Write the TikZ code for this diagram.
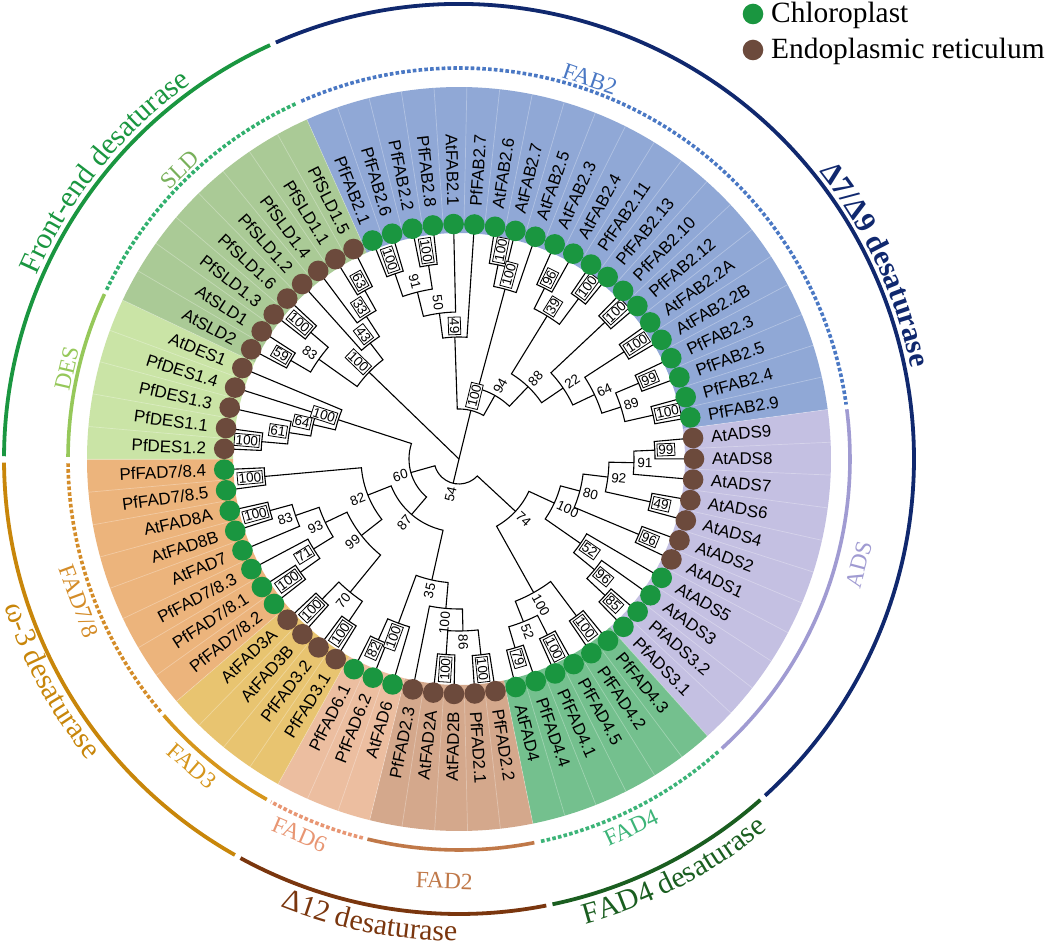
\documentclass[tikz,border=0pt]{standalone}
\usepackage{fontspec}
\setmainfont{Liberation Serif}
\setsansfont{Liberation Sans}
\usetikzlibrary{decorations.text}

%% dots
\definecolor{cp}{RGB}{26,150,64}
\definecolor{er}{RGB}{108,74,60}
%% sector backgrounds
\definecolor{fabBG}{RGB}{144,168,214}
\definecolor{adsBG}{RGB}{196,192,226}
\definecolor{fadfourBG}{RGB}{116,192,142}
\definecolor{fadtwoBG}{RGB}{212,168,140}
\definecolor{fadsixBG}{RGB}{236,190,160}
\definecolor{fadthreeBG}{RGB}{232,196,112}
\definecolor{fadsevenBG}{RGB}{236,180,124}
\definecolor{desBG}{RGB}{202,228,166}
\definecolor{sldBG}{RGB}{170,202,150}
%% subfamily rings
\definecolor{fabC}{RGB}{74,120,196}
\definecolor{adsC}{RGB}{160,155,210}
\definecolor{fadfourC}{RGB}{60,180,120}
\definecolor{fadtwoC}{RGB}{192,120,72}
\definecolor{fadsixC}{RGB}{232,150,115}
\definecolor{fadthreeC}{RGB}{214,150,28}
\definecolor{fadsevenC}{RGB}{212,140,40}
\definecolor{desC}{RGB}{150,200,90}
\definecolor{sldC}{RGB}{50,176,110}
\definecolor{sldT}{RGB}{120,176,90}
%% family rings
\definecolor{navyC}{RGB}{16,40,110}
\definecolor{fourDC}{RGB}{26,94,32}
\definecolor{twelveC}{RGB}{122,54,14}
\definecolor{omegaC}{RGB}{200,134,10}
\definecolor{frontC}{RGB}{26,150,64}

%% one bracket of the tree: child (x1,r1), child (x2,r2), node radius r
\newcommand{\clade}[5]{%
  \pgfmathsetmacro\aA{111.6-(#1)*5.0704}%
  \pgfmathsetmacro\aB{111.6-(#3)*5.0704}%
  \draw[treeLine] (\aA:#2) -- (\aA:#5)
    arc[start angle=\aA, end angle=\aB, radius=#5] -- (\aB:#4);}

%% bootstrap value at node (x,r)
\newcommand{\boot}[5]{%
  \pgfmathsetmacro\aA{111.6-(#1)*5.0704}%
  \pgfmathsetmacro\rA{#2+2}%
  \pgfmathtruncatemacro\rsd{cos(\aA)>0}%
  \ifnum\rsd=1
    \node[#4, rotate=\aA, anchor=west] (bs#5) at (\aA:\rA) {#3};
  \else
    \pgfmathsetmacro\aR{\aA+180}%
    \node[#4, rotate=\aR, anchor=east] (bs#5) at (\aA:\rA) {#3};
  \fi}

\begin{document}
\begin{tikzpicture}
[x=1bp,y=1bp,
  treeLine/.style={line width=1.1bp,black},
  leafLabel/.style={font=\sffamily\fontsize{17}{19}\selectfont,inner sep=0pt},
  bsBox/.style={draw,line width=0.8bp,fill=white,font=\sffamily\fontsize{13.5}{15}\selectfont,inner sep=1.3bp},
  bsFree/.style={font=\sffamily\fontsize{13.5}{15}\selectfont,inner sep=1.3bp},
  leafDot/.style={circle,inner sep=0pt,minimum size=20.6bp},
  ringSolid/.style={line width=3.6bp},
  ringDash/.style={line width=3.6bp,dash pattern=on 3.6bp off 2.2bp},
  outerRing/.style={line width=3.8bp},
  subLabel/.style={font=\fontsize{23.5}{25}\selectfont,inner sep=0pt}]
\fill[white] (-459,-487) rectangle (593,459);
\useasboundingbox (-459,-487) rectangle (593,459);

%% coloured sectors
\foreach \ia/\ib/\c in {0/20/fabBG, 21/31/adsBG, 32/37/fadfourBG, 38/42/fadtwoBG,
  43/45/fadsixBG, 46/49/fadthreeBG, 50/57/fadsevenBG, 58/62/desBG, 63/70/sldBG}
{
  \pgfmathsetmacro\aA{111.6-(\ia-0.5)*5.0704}
  \pgfmathsetmacro\aB{111.6-(\ib+0.5)*5.0704}
  \fill[\c] (\aA:226) arc[start angle=\aA, end angle=\aB, radius=226]
    -- (\aB:372) arc[start angle=\aB, end angle=\aA, radius=372] -- cycle;
}
%% faint lines between the leaves
\foreach \i in {0,...,70}
{
  \pgfmathsetmacro\aA{111.6-(\i-0.5)*5.0704}
  \draw[white,opacity=0.3,line width=0.7bp] (\aA:240) -- (\aA:372);
}

%% tree: brackets
\foreach \xa/\ra/\xb/\rb/\rn in {
  0/226/1/226/196, 2/226/3/226/196, 0.5/196/2.5/196/172, 1.5/172/4/226/147,
  2.75/147/5/226/122, 6/226/7/226/198, 6.5/198/8/226/176, 9/226/10/226/191,
  11/226/12/226/200, 9.5/191/11.5/200/168, 13/226/14/226/200, 15/226/16/226/197,
  17/226/18/226/195, 19/226/20/226/199, 17.5/195/19.5/199/170, 15.5/197/18.5/170/150,
  13.5/200/17/150/126, 10.5/168/15.25/126/100, 7.25/176/12.875/100/73,
  3.875/122/10.0625/73/50,
  21/226/22/226/196, 21.5/196/23/226/175, 24/226/25/226/196, 22.25/175/24.5/196/150,
  26/226/27/226/195, 23.375/150/26.5/195/125, 30/226/31/226/200, 29/226/30.5/200/175,
  28/226/29.75/175/148, 24.9375/125/28.875/148/105,
  32/226/33/226/196, 34/226/35/226/197, 36/226/37/226/197, 34.5/197/36.5/197/175,
  32.5/196/35.5/175/153, 26.90625/105/34/153/77,
  38/226/39/226/197, 40/226/41/226/196, 38.5/197/40.5/196/172, 39.5/172/42/226/150,
  44/226/45/226/198, 43/226/44.5/198/175, 40.75/150/43.75/175/124,
  46/226/47/226/196, 48/226/49/226/196, 46.5/196/48.5/196/172,
  50/226/51/226/195, 50.5/195/52/226/171, 54/226/55/226/196, 53/226/54.5/196/173,
  51.25/171/53.75/173/148, 56/226/57/226/195, 47.5/172/52.5/148/124,
  50/124/56.5/195/98, 42.25/124/53.25/98/73,
  58/226/59/226/198, 58.5/198/60/226/172, 59.25/172/61/226/150, 60.125/150/62/226/127,
  47.75/73/61.0625/127/50,
  63/226/64/226/195, 65/226/66/226/195, 63.5/195/65.5/195/172, 69/226/70/226/193,
  68/226/69.5/193/170, 67/226/68.75/170/146, 64.5/172/67.875/146/125,
  30.453/77/54.406/50/25}
{
  \clade{\xa}{\ra}{\xb}{\rb}{\rn}
}
%% tree: root stems
\coordinate (root) at (0,0);
\foreach \xa/\ra in {6.96875/50, 66.1875/125, 42.43/25}
{
  \pgfmathsetmacro\aA{111.6-\xa*5.0704}
  \draw[treeLine] (root) -- (\aA:\ra);
}

%% bootstrap values
\foreach \xa/\ra/\v/\s [count=\k] in {
  0.5/196/100/bsBox, 2.5/196/100/bsBox, 1.5/172/91/bsFree, 2.75/147/50/bsFree,
  3.875/122/49/bsBox, 6.5/198/100/bsBox, 7.25/176/100/bsBox, 9.5/191/96/bsBox,
  11.5/200/100/bsBox, 10.5/168/39/bsBox, 13.5/200/100/bsBox, 15.5/197/100/bsBox,
  17.5/195/99/bsBox, 19.5/199/100/bsBox, 18.5/170/89/bsFree, 17/150/64/bsFree,
  15.25/126/22/bsFree, 12.875/100/88/bsFree, 10.0625/73/94/bsFree, 6.96875/50/100/bsBox,
  21.5/196/99/bsBox, 22.25/175/91/bsFree, 24.5/196/49/bsBox, 23.375/150/92/bsFree,
  26.5/195/96/bsBox, 24.9375/125/80/bsFree, 30.5/200/85/bsBox, 29.75/175/96/bsBox,
  28.875/148/52/bsBox, 26.90625/105/100/bsFree,
  32.5/196/100/bsBox, 34.5/197/100/bsBox, 36.5/197/79/bsBox, 35.5/175/52/bsFree,
  34/153/100/bsFree, 30.453/77/74/bsFree,
  38.5/197/100/bsBox, 40.5/196/100/bsBox, 39.5/172/86/bsFree, 40.75/150/100/bsFree,
  44.5/198/82/bsBox, 43.75/175/100/bsBox, 42.25/124/35/bsFree,
  46.5/196/100/bsBox, 48.5/196/100/bsBox, 47.5/172/70/bsFree,
  50.5/195/100/bsBox, 51.25/171/71/bsBox, 54.5/196/100/bsBox, 53.75/173/83/bsFree,
  52.5/148/93/bsFree, 56.5/195/100/bsBox, 50/124/99/bsFree, 53.25/98/82/bsFree,
  47.75/73/87/bsFree,
  58.5/198/100/bsBox, 59.25/172/61/bsBox, 60.125/150/64/bsBox, 61.0625/127/100/bsBox,
  54.406/50/60/bsFree,
  63.5/195/59/bsBox, 65.5/195/100/bsBox, 64.5/172/83/bsFree, 69.5/193/63/bsBox,
  68.75/170/33/bsBox, 67.875/146/43/bsBox, 66.1875/125/100/bsBox, 42.43/25/54/bsFree}
{
  \boot{\xa}{\ra}{\v}{\s}{\k}
}

%% leaves: dots and names
\foreach \lab/\col [count=\i from 0] in {
  PfFAB2.1/cp, PfFAB2.6/cp, PfFAB2.2/cp, PfFAB2.8/cp, AtFAB2.1/cp, PfFAB2.7/cp,
  AtFAB2.6/cp, AtFAB2.7/cp, AtFAB2.5/cp, AtFAB2.3/cp, AtFAB2.4/cp, PfFAB2.11/cp,
  PfFAB2.13/cp, PfFAB2.10/cp, PfFAB2.12/cp, AtFAB2.2A/cp, AtFAB2.2B/cp, PfFAB2.3/cp,
  PfFAB2.5/cp, PfFAB2.4/cp, PfFAB2.9/cp,
  AtADS9/er, AtADS8/er, AtADS7/er, AtADS6/er, AtADS4/er, AtADS2/er, AtADS1/er,
  AtADS5/cp, AtADS3/cp, PfADS3.2/cp, PfADS3.1/cp,
  PfFAD4.3/cp, PfFAD4.2/cp, PfFAD4.5/cp, PfFAD4.1/cp, PfFAD4.4/cp, AtFAD4/cp,
  PfFAD2.2/er, PfFAD2.1/er, AtFAD2B/er, AtFAD2A/er, PfFAD2.3/er,
  AtFAD6/cp, PfFAD6.2/cp, PfFAD6.1/cp,
  PfFAD3.1/er, PfFAD3.2/er, AtFAD3B/er, AtFAD3A/er,
  {PfFAD7/8.2}/cp, {PfFAD7/8.1}/cp, {PfFAD7/8.3}/cp, AtFAD7/cp, AtFAD8B/cp, AtFAD8A/cp,
  {PfFAD7/8.5}/cp, {PfFAD7/8.4}/cp,
  PfDES1.2/er, PfDES1.1/er, PfDES1.3/er, PfDES1.4/er, AtDES1/er,
  AtSLD2/er, AtSLD1/er, PfSLD1.3/er, PfSLD1.6/er, PfSLD1.2/er, PfSLD1.4/er,
  PfSLD1.1/er, PfSLD1.5/er}
{
  \pgfmathsetmacro\aA{111.6-\i*5.0704}
  \node[leafDot,fill=\col] (dot\i) at (\aA:235) {};
  \pgfmathtruncatemacro\rsd{cos(\aA)>0}
  \ifnum\rsd=1
    \node[leafLabel,rotate=\aA,anchor=west] (leaf\i) at (\aA:253) {\lab};
  \else
    \pgfmathsetmacro\aR{\aA+180}
    \node[leafLabel,rotate=\aR,anchor=east] (leaf\i) at (\aA:253) {\lab};
  \fi
}

%% subfamily ring
\foreach \ia/\ib/\c/\d in {0/20/fabC/ringDash, 21/31/adsC/ringSolid, 32/37/fadfourC/ringDash,
  38/42/fadtwoC/ringSolid, 43/45/fadsixC/ringDash, 46/49/fadthreeC/ringSolid,
  50/57/fadsevenC/ringDash, 58/62/desC/ringSolid, 63/70/sldC/ringDash}
{
  \pgfmathsetmacro\aA{111.6-(\ia-0.5)*5.0704-0.35}
  \pgfmathsetmacro\aB{111.6-(\ib+0.5)*5.0704+0.35}
  \draw[\d,\c] (\aA:391) arc[start angle=\aA, end angle=\aB, radius=391];
}
\node[subLabel,text=fabC,rotate=-19] (labFAB) at (71:402) {FAB2};
\node[subLabel,text=sldT,rotate=44] (labSLD) at (134:402) {SLD};
\node[subLabel,text=desC,rotate=77] (labDES) at (167:402) {DES};
\node[subLabel,text=fadsevenC,rotate=290.5] (labFADseven) at (200.5:406) {FAD7/8};
\node[subLabel,text=fadthreeC,rotate=319] (labFADthree) at (229:407) {FAD3};
\node[subLabel,text=fadsixC,rotate=337] (labFADsix) at (247:408) {FAD6};
\node[subLabel,text=fadtwoC,rotate=-2] (labFADtwo) at (-92:422) {FAD2};
\node[subLabel,text=fadfourC,rotate=25] (labFADfour) at (-65:407) {FAD4};
\node[subLabel,text=adsC,rotate=75.2] (labADS) at (-14.8:414) {ADS};

%% family ring
\foreach \ia/\ib/\c in {0/31/navyC, 32/37/fourDC, 38/45/twelveC, 46/57/omegaC, 58/70/frontC}
{
  \pgfmathsetmacro\aA{111.6-(\ia-0.5)*5.0704-0.4}
  \pgfmathsetmacro\aB{111.6-(\ib+0.5)*5.0704+0.4}
  \draw[outerRing,\c] (\aA:455) arc[start angle=\aA, end angle=\aB, radius=455];
}
\path[decorate,decoration={text along path,text align=center,text color=frontC,
  text={|\fontsize{30}{32}\selectfont|Front-end desaturase}}]
  (176:461) arc[start angle=176, end angle=106, radius=461];
\path[decorate,decoration={text along path,text align=center,text color=navyC,
  text={|\fontsize{30}{32}\selectfont\bfseries|Δ7/Δ9 desaturase}}]
  (60:461) arc[start angle=60, end angle=-10, radius=461];
\path[decorate,decoration={text along path,text align=center,text color=fourDC,
  text={|\fontsize{30}{32}\selectfont|FAD4 desaturase}}]
  (-97.5:482) arc[start angle=-97.5, end angle=-27.5, radius=482];
\path[decorate,decoration={text along path,text align=center,text color=twelveC,
  text={|\fontsize{30}{32}\selectfont|Δ12 desaturase}}]
  (-136:482) arc[start angle=-136, end angle=-66, radius=482];
\path[decorate,decoration={text along path,text align=center,text color=omegaC,
  text={|\fontsize{30}{32}\selectfont|ω-3 desaturase}}]
  (173.5:478) arc[start angle=173.5, end angle=243.5, radius=478];

%% legend
\node[leafDot,fill=cp] (keyCp) at (294,445) {};
\node[leafDot,fill=er] (keyEr) at (294,409) {};
\node[anchor=base west,inner sep=0pt,font=\fontsize{29.5}{31}\selectfont] (keyCpText) at (312,436) {Chloroplast};
\node[anchor=base west,inner sep=0pt,font=\fontsize{29.5}{31}\selectfont] (keyErText) at (312,400) {Endoplasmic reticulum};
\end{tikzpicture}
\end{document}
